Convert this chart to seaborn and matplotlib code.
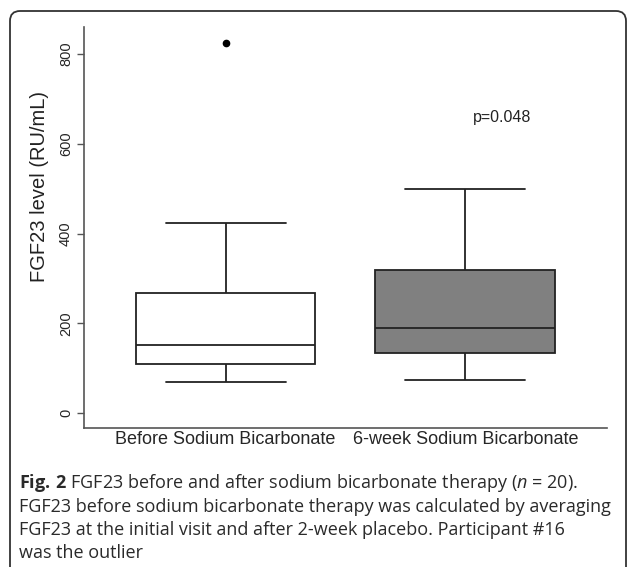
import numpy as np
import pandas as pd
import matplotlib
matplotlib.use("Agg")
import matplotlib.pyplot as plt
from matplotlib.patches import FancyBboxPatch
import seaborn as sb

# groups and per-participant values (n = 20), chosen to reproduce the box stats in the figure
groups = ["Before Sodium Bicarbonate", "6-week Sodium Bicarbonate"]
before_vals = [69, 80, 92, 100, 106, 110, 118, 128, 140, 148,
               154, 170, 195, 230, 262, 282, 310, 350, 424, 824]
after_vals = [73, 85, 98, 115, 132, 133, 145, 160, 175, 185,
              193, 210, 240, 280, 310, 342, 380, 420, 460, 500]
box_colors = ["white", "#808080"]
y_ticks = [0, 200, 400, 600, 800]
p_label = "p=0.048"
caption_lines = [
    r"$\mathbf{Fig.\,2}$ FGF23 before and after sodium bicarbonate therapy ($\mathit{n}$ = 20).",
    "FGF23 before sodium bicarbonate therapy was calculated by averaging",
    "FGF23 at the initial visit and after 2-week placebo. Participant #16",
    "was the outlier",
]

df = pd.DataFrame({
    "group": [groups[0]] * len(before_vals) + [groups[1]] * len(after_vals),
    "fgf23": before_vals + after_vals,
})

sb.set_theme(style="white")
plt.rcParams["font.family"] = ["Liberation Sans", "DejaVu Sans"]
plt.rcParams["mathtext.fontset"] = "custom"
plt.rcParams["mathtext.rm"] = "Open Sans"
plt.rcParams["mathtext.bf"] = "Open Sans:bold"
plt.rcParams["mathtext.it"] = "Open Sans:italic"

fig = plt.figure(figsize=(6.27, 5.67), dpi=100)
ax = fig.add_axes([0.134, 0.2451, 0.834, 0.7069])

line_c = "#222222"
sb.boxplot(data=df, x="group", y="fgf23", hue="group", order=groups,
           palette=dict(zip(groups, box_colors)), legend=False, saturation=1,
           width=0.75, linecolor=line_c, linewidth=1.3, capwidths=0.5,
           flierprops=dict(marker="o", markerfacecolor="black",
                           markeredgecolor="black", markersize=4.5),
           ax=ax)

ax.set_xlim(-0.59, 1.59)
ax.set_ylim(-33.4, 860)
ax.set_yticks(y_ticks)
ax.set_yticklabels([str(v) for v in y_ticks], rotation=90, va="center", fontsize=10.5)
ax.tick_params(axis="y", left=True, length=5, width=1, color="#555555", pad=3)
ax.tick_params(axis="x", bottom=False, length=0, pad=2, labelsize=13)
for s in ["top", "right"]:
    ax.spines[s].set_visible(False)
for s in ["left", "bottom"]:
    ax.spines[s].set_color("#555555")
    ax.spines[s].set_linewidth(1.2)
ax.set_xlabel("")
ax.set_ylabel("FGF23 level (RU/mL)", fontsize=14.5, color="#222222")
ax.yaxis.set_label_coords(-0.067, 0.603)

ax.text(1.154, 659, p_label, ha="center", va="center", fontsize=11.5, color="#222222")

# rounded border around figure and caption
border = FancyBboxPatch((0.10, -0.3), 6.16, 5.86,
                        boxstyle="round,pad=0,rounding_size=0.1",
                        transform=fig.dpi_scale_trans, fill=False,
                        edgecolor="#333333", linewidth=1.3)
fig.patches.append(border)

cap_y = [483, 507, 530, 553]
for txt, yy in zip(caption_lines, cap_y):
    fig.text(19 / 627, 1 - yy / 567, txt, ha="left", va="center",
             fontsize=13.0, family="Open Sans", color="#2a2a2a")

fig.savefig("out.png", dpi=100)
